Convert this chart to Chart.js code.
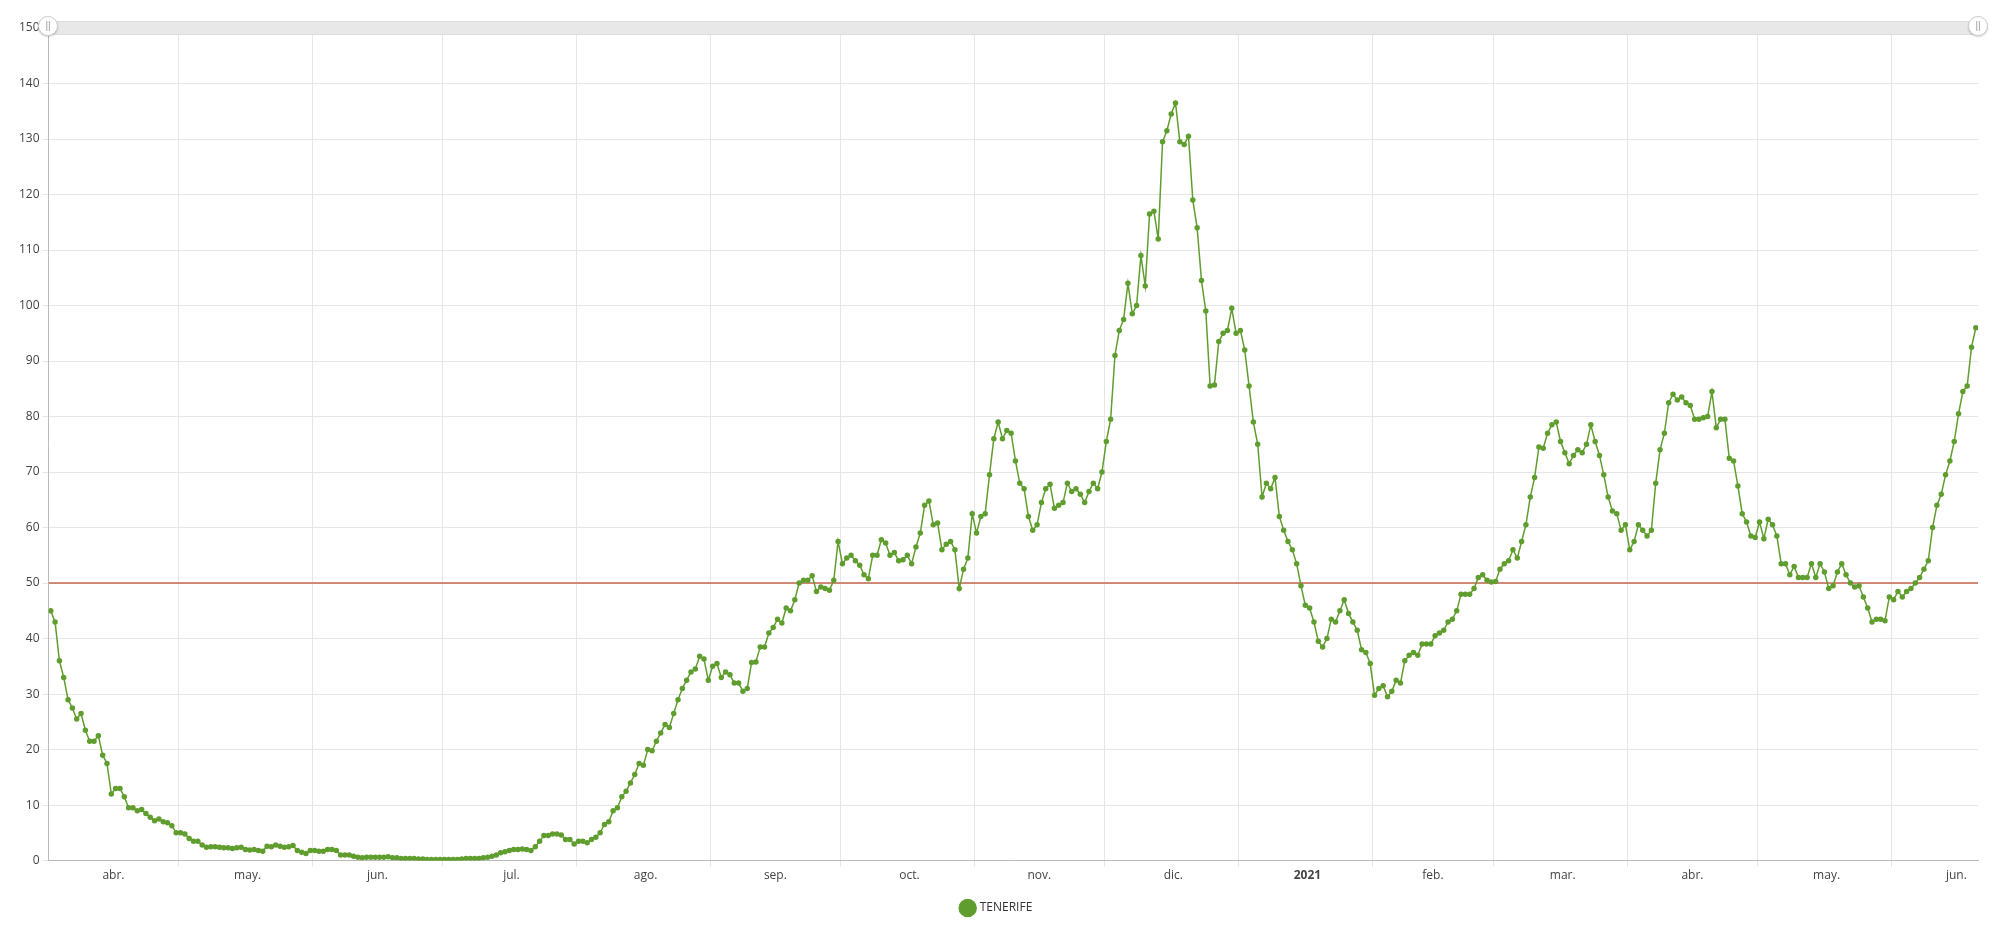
<!DOCTYPE html>
<html>
<head>
<meta charset="utf-8">
<script src="https://cdn.jsdelivr.net/npm/chart.js@4"></script>
<style>
	body { margin: 0; background: #fff; }
	#wrap { position: relative; width: 2000px; height: 932px; }
	#scroll { position: absolute; left: 48px; top: 21px; width: 1930px; height: 14px; background: #e8e8e8; border: 1px solid #ddd; box-sizing: border-box; }
	.grip { position: absolute; top: 16px; width: 18px; height: 18px; border-radius: 50%; background: #fff; border: 1px solid #ccc; box-shadow: 0 1px 2px rgba(0,0,0,0.2); font: 10px sans-serif; color: #999; text-align: center; line-height: 18px; }
</style>
</head>
<body>
<div id="wrap">
	<canvas id="chart" width="2000" height="932"></canvas>
	<div id="scroll"></div>
	<div class="grip" style="left:38px">||</div>
	<div class="grip" style="left:1968px">||</div>
</div>
<script>
// 14-day incidence, daily from 1 Apr 2020
var apr20 = [45, 43, 36, 33, 29, 27.5, 25.5, 26.5, 23.5, 21.5, 21.5, 22.5, 19, 17.5, 12, 13, 13, 11.5, 9.5, 9.5, 9, 9.2, 8.5, 7.8, 7.2, 7.5, 7, 6.8, 6.3, 5];
var may20 = [5, 4.8, 4, 3.5, 3.5, 2.8, 2.4, 2.5, 2.5, 2.4, 2.3, 2.3, 2.2, 2.3, 2.4, 2.0, 1.9, 2.0, 1.8, 1.7, 2.6, 2.5, 2.8, 2.6, 2.4, 2.5, 2.7, 1.8, 1.5, 1.3, 1.8];
var jun20 = [1.8, 1.7, 1.7, 2.0, 2.0, 1.8, 1.0, 1.0, 1.0, 0.8, 0.6, 0.5, 0.6, 0.6, 0.6, 0.6, 0.6, 0.7, 0.5, 0.5, 0.4, 0.4, 0.4, 0.4, 0.3, 0.3, 0.2, 0.2, 0.2, 0.2];
var jul20 = [0.2, 0.2, 0.2, 0.2, 0.3, 0.4, 0.4, 0.4, 0.4, 0.5, 0.6, 0.8, 1.0, 1.4, 1.6, 1.8, 2.0, 2.0, 2.1, 2.0, 1.8, 2.5, 3.5, 4.5, 4.5, 4.8, 4.8, 4.6, 3.8, 3.8, 3.0];
var aug20 = [3.5, 3.5, 3.2, 3.8, 4.2, 5, 6.5, 7.0, 9, 9.5, 11.5, 12.5, 14, 15.5, 17.5, 17.2, 20, 19.8, 21.5, 23, 24.5, 24, 26.5, 29, 31, 32.5, 34, 34.5, 36.8, 36.3, 32.5];
var sep20 = [35, 35.5, 33, 34, 33.5, 32, 32, 30.5, 31, 35.7, 35.8, 38.5, 38.5, 41, 42, 43.5, 42.8, 45.5, 45, 47, 50, 50.5, 50.5, 51.3, 48.5, 49.3, 49, 48.7, 50.5, 57.5];
var oct20 = [53.5, 54.5, 55, 54, 53.2, 51.5, 50.8, 55, 55, 57.8, 57.2, 55, 55.5, 54, 54.2, 55, 53.5, 56.5, 59, 64, 64.8, 60.5, 60.8, 56, 57, 57.5, 56, 49, 52.5, 54.5, 62.5];
var nov20 = [59, 62, 62.5, 69.5, 76, 79, 76, 77.5, 77, 72, 68, 67, 62, 59.5, 60.5, 64.5, 67, 67.8, 63.5, 64, 64.5, 68, 66.5, 67, 66, 64.5, 66.5, 68, 67, 70];
var dec20 = [75.5, 79.5, 91, 95.5, 97.5, 104, 98.5, 100, 109, 103.5, 116.5, 117, 112, 129.5, 131.5, 134.5, 136.5, 129.5, 129, 130.5, 119, 114, 104.5, 99, 85.5, 85.7, 93.5, 95, 95.5, 99.5, 95];
var jan21 = [95.5, 92, 85.5, 79, 75, 65.5, 68, 67, 69, 62, 59.5, 57.5, 56, 53.5, 49.5, 46, 45.5, 43, 39.5, 38.5, 40, 43.5, 43, 45, 47, 44.5, 43, 41.5, 38, 37.5, 35.5];
var feb21 = [29.8, 31, 31.5, 29.5, 30.5, 32.5, 32, 36, 37, 37.5, 37, 39, 39, 39, 40.5, 41, 41.5, 43, 43.5, 45, 48, 48, 48, 49, 51, 51.5, 50.5, 50.2];
var mar21 = [50.3, 52.5, 53.5, 54, 56, 54.5, 57.5, 60.5, 65.5, 69, 74.5, 74.3, 77, 78.5, 79, 75.5, 73.5, 71.5, 73, 74, 73.5, 75, 78.5, 75.5, 73, 69.5, 65.5, 63, 62.5, 59.5, 60.5];
var apr21 = [56, 57.5, 60.5, 59.5, 58.5, 59.5, 68, 74, 77, 82.5, 84, 83, 83.5, 82.5, 82, 79.5, 79.5, 79.8, 80, 84.5, 78, 79.5, 79.5, 72.5, 72, 67.5, 62.5, 61, 58.5, 58.2];
var may21 = [61, 58, 61.5, 60.5, 58.5, 53.5, 53.5, 51.5, 53, 51, 51, 51, 53.5, 51, 53.5, 52, 49, 49.5, 52, 53.5, 51.5, 50, 49.3, 49.5, 47.5, 45.5, 43, 43.5, 43.5, 43.2, 47.5];
var jun21 = [47, 48.5, 47.5, 48.5, 49, 50, 51, 52.5, 54, 60, 64, 66, 69.5, 72, 75.5, 80.5, 84.5, 85.5, 92.5, 96];

var monthLabels = ['abr.', 'may.', 'jun.', 'jul.', 'ago.', 'sep.', 'oct.', 'nov.', 'dic.', '2021', 'feb.', 'mar.', 'abr.', 'may.', 'jun.'];
var monthStarts = [0, 30, 61, 91, 122, 153, 183, 214, 244, 275, 306, 334, 365, 395, 426];
var threshold = 50;

var values = [].concat(apr20, may20, jun20, jul20, aug20, sep20, oct20, nov20, dec20, jan21, feb21, mar21, apr21, may21, jun21);
var points = values.map(function(v, i) { return { x: i, y: v }; });
var lastX = values.length - 1;

// mid-month label positions
var labelAt = {};
monthStarts.forEach(function(s, i) {
	var end = i + 1 < monthStarts.length ? monthStarts[i + 1] : s + 30;
	labelAt[Math.round((s + end) / 2) - 0.5] = monthLabels[i];
});

new Chart(document.getElementById('chart'), {
	type: 'line',
	data: {
		datasets: [{
			label: 'TENERIFE',
			data: points,
			borderColor: '#5f9e2e',
			backgroundColor: '#5f9e2e',
			borderWidth: 1.5,
			pointRadius: 2,
			pointHoverRadius: 3,
			tension: 0
		},
		{
			label: 'umbral',
			data: [{ x: -0.5, y: threshold }, { x: lastX + 0.5, y: threshold }],
			borderColor: '#c4654f',
			borderWidth: 1.5,
			pointRadius: 0
		}]
	},
	options: {
		responsive: false,
		animation: false,
		layout: { padding: { top: 28, right: 22, left: 16, bottom: 8 } },
		plugins: {
			tooltip: { enabled: false },
			legend: {
				position: 'bottom',
				labels: {
					usePointStyle: true,
					pointStyle: 'circle',
					boxWidth: 14,
					boxHeight: 14,
					padding: 17,
					color: '#333',
					font: { family: 'Open Sans', size: 12 },
					filter: function(item) { return item.text === 'TENERIFE'; }
				}
			}
		},
		scales: {
			x: {
				type: 'linear',
				min: -0.5,
				max: lastX + 0.5,
				afterBuildTicks: function(axis) {
					var t = monthStarts.slice(1).map(function(s) { return { value: s - 0.5 }; });
					Object.keys(labelAt).forEach(function(k) { t.push({ value: parseFloat(k) }); });
					t.sort(function(a, b) { return a.value - b.value; });
					axis.ticks = t;
				},
				ticks: {
					autoSkip: false,
					maxRotation: 0,
					padding: 2,
					color: '#444',
					font: function(ctx) {
						var lab = labelAt[ctx.tick && ctx.tick.value];
						return { family: 'Open Sans', size: 12, weight: lab === '2021' ? 'bold' : 'normal' };
					},
					callback: function(v) { return labelAt[v] || ''; }
				},
				grid: {
					color: function(ctx) {
						return ctx.tick && labelAt[ctx.tick.value] ? 'rgba(0,0,0,0)' : '#e6e6e6';
					},
					tickLength: 6
				},
				border: { color: '#bbb' }
			},
			y: {
				min: 0,
				max: 150,
				ticks: { stepSize: 10, color: '#444', font: { family: 'Open Sans', size: 12 } },
				grid: { color: '#e6e6e6', tickLength: 6 },
				border: { color: '#bbb' }
			}
		}
	}
});
</script>
</body>
</html>
